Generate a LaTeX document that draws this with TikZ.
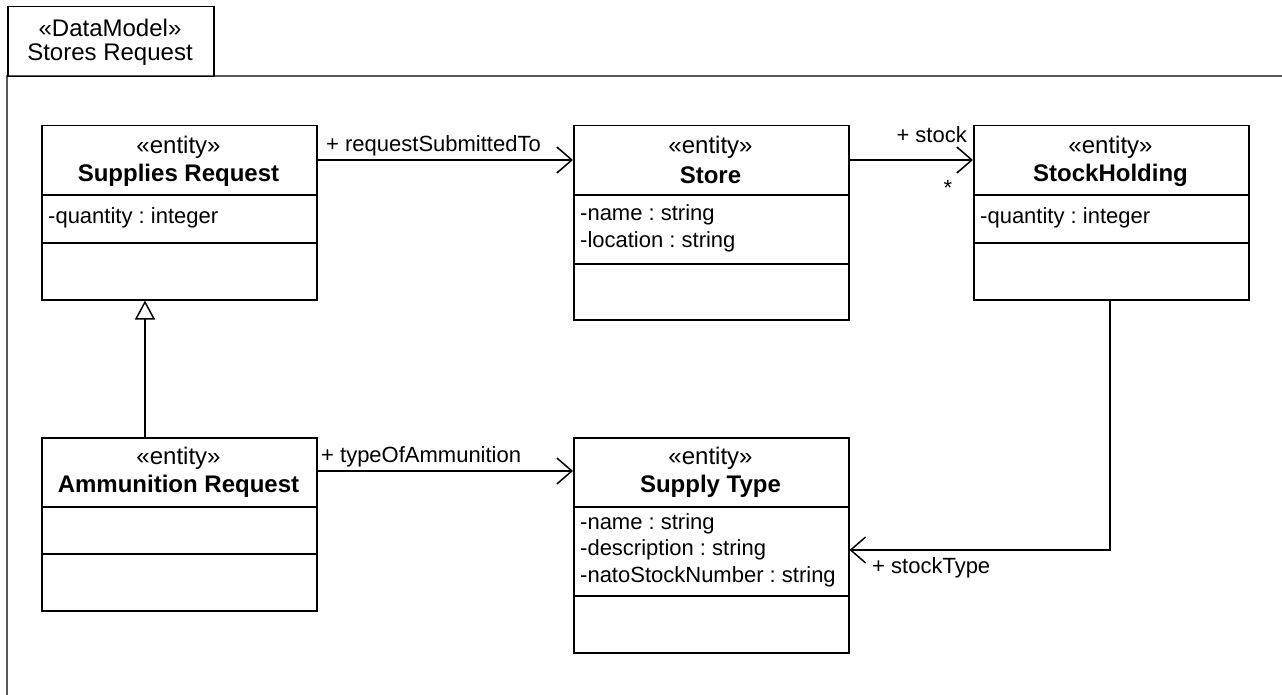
\documentclass[tikz,border=0pt]{standalone}
\usepackage{fontspec}
\setmainfont{Liberation Sans}
\usetikzlibrary{arrows.meta}
\frenchspacing
\begin{document}
\begin{tikzpicture}[x=1pt,y=-1pt,
  cls/.style={draw,line width=1.5pt,minimum width=275pt,anchor=north west,inner sep=0pt},
  stereo/.style={font=\fontsize{24}{28}\selectfont,inner sep=0pt},
  cname/.style={font=\fontsize{24}{28}\selectfont\bfseries,inner sep=0pt},
  attr/.style={anchor=west,font=\fontsize{22}{27}\selectfont,inner sep=0pt},
  lbl/.style={font=\fontsize{22}{27}\selectfont,inner sep=0pt},
  tabtxt/.style={font=\fontsize{24}{28}\selectfont,inner sep=0pt},
  assoc/.style={line width=1.5pt,-{Straight Barb[length=15pt,width=26pt,line width=1.5pt]}},
  gen/.style={line width=1.5pt,-{Triangle[open,length=19pt,width=20pt,line width=1.5pt,fill=white]}},
  sep/.style={line width=1.5pt}
]
\useasboundingbox (0,0) rectangle (1282,695);
% frame
\draw[line width=1.5pt,gray!70!black] (7,695) -- (7,76) -- (1282,76);
\node[draw,line width=1.5pt,minimum width=206pt,minimum height=70pt,anchor=north west,inner sep=0pt] (tab) at (7,6) {};
\node[tabtxt] (tab1) at (110,28) {«DataModel»};
\node[tabtxt] (tab2) at (110,55) {Stores Request};

% Supplies Request
\node[cls,minimum height=174pt] (sr) at (41,125) {};
\node[stereo] (sr1) at (178.5,147) {«entity»};
\node[cname] (sr2) at (178.5,175) {Supplies Request};
\draw[sep] (41,195) -- (316,195);
\node[attr] (sra) at (48,218) {-quantity : integer};
\draw[sep] (41,243) -- (316,243);

% Store
\node[cls,minimum height=194pt] (st) at (573,125) {};
\node[stereo] (st1) at (710.5,147) {«entity»};
\node[cname] (st2) at (710.5,175) {Store};
\draw[sep] (573,195) -- (848,195);
\node[attr] (sta) at (580,215) {-name : string};
\node[attr] (stb) at (580,242) {-location : string};
\draw[sep] (573,264) -- (848,264);

% StockHolding
\node[cls,minimum height=174pt] (sh) at (973,125) {};
\node[stereo] (sh1) at (1110.5,147) {«entity»};
\node[cname] (sh2) at (1110.5,175) {StockHolding};
\draw[sep] (973,195) -- (1248,195);
\node[attr] (sha) at (980,218) {-quantity : integer};
\draw[sep] (973,243) -- (1248,243);

% Ammunition Request
\node[cls,minimum height=173pt] (ar) at (41,437) {};
\node[stereo] (ar1) at (178.5,458) {«entity»};
\node[cname] (ar2) at (178.5,486) {Ammunition Request};
\draw[sep] (41,507) -- (316,507);
\draw[sep] (41,554) -- (316,554);

% Supply Type
\node[cls,minimum height=215pt] (sp) at (573,437) {};
\node[stereo] (sp1) at (710.5,458) {«entity»};
\node[cname] (sp2) at (710.5,486) {Supply Type};
\draw[sep] (573,507) -- (848,507);
\node[attr] (spa) at (580,524) {-name : string};
\node[attr] (spb) at (580,550) {-description : string};
\node[attr] (spc) at (580,577) {-natoStockNumber : string};
\draw[sep] (573,596) -- (848,596);

% connectors
\draw[assoc] (sr.east |- 0,160) -- (st.west |- 0,160);
\node[lbl,anchor=west] (l1) at (326,146) {+ requestSubmittedTo};
\draw[assoc] (st.east |- 0,160) -- (sh.west |- 0,160);
\node[lbl,anchor=east] (l2) at (967,135) {+ stock};
\node[lbl] (l3) at (948,188) {*};
\draw[gen] (ar.north -| 145,0) -- (sr.south -| 145,0);
\draw[assoc] (ar.east |- 0,471) -- (sp.west |- 0,471);
\node[lbl,anchor=west] (l4) at (321,457) {+ typeOfAmmunition};
\draw[assoc] (sh.south -| 1110,0) -- (1110,550) -- (sp.east |- 0,550);
\node[lbl,anchor=west] (l5) at (872,568) {+ stockType};
\end{tikzpicture}
\end{document}
